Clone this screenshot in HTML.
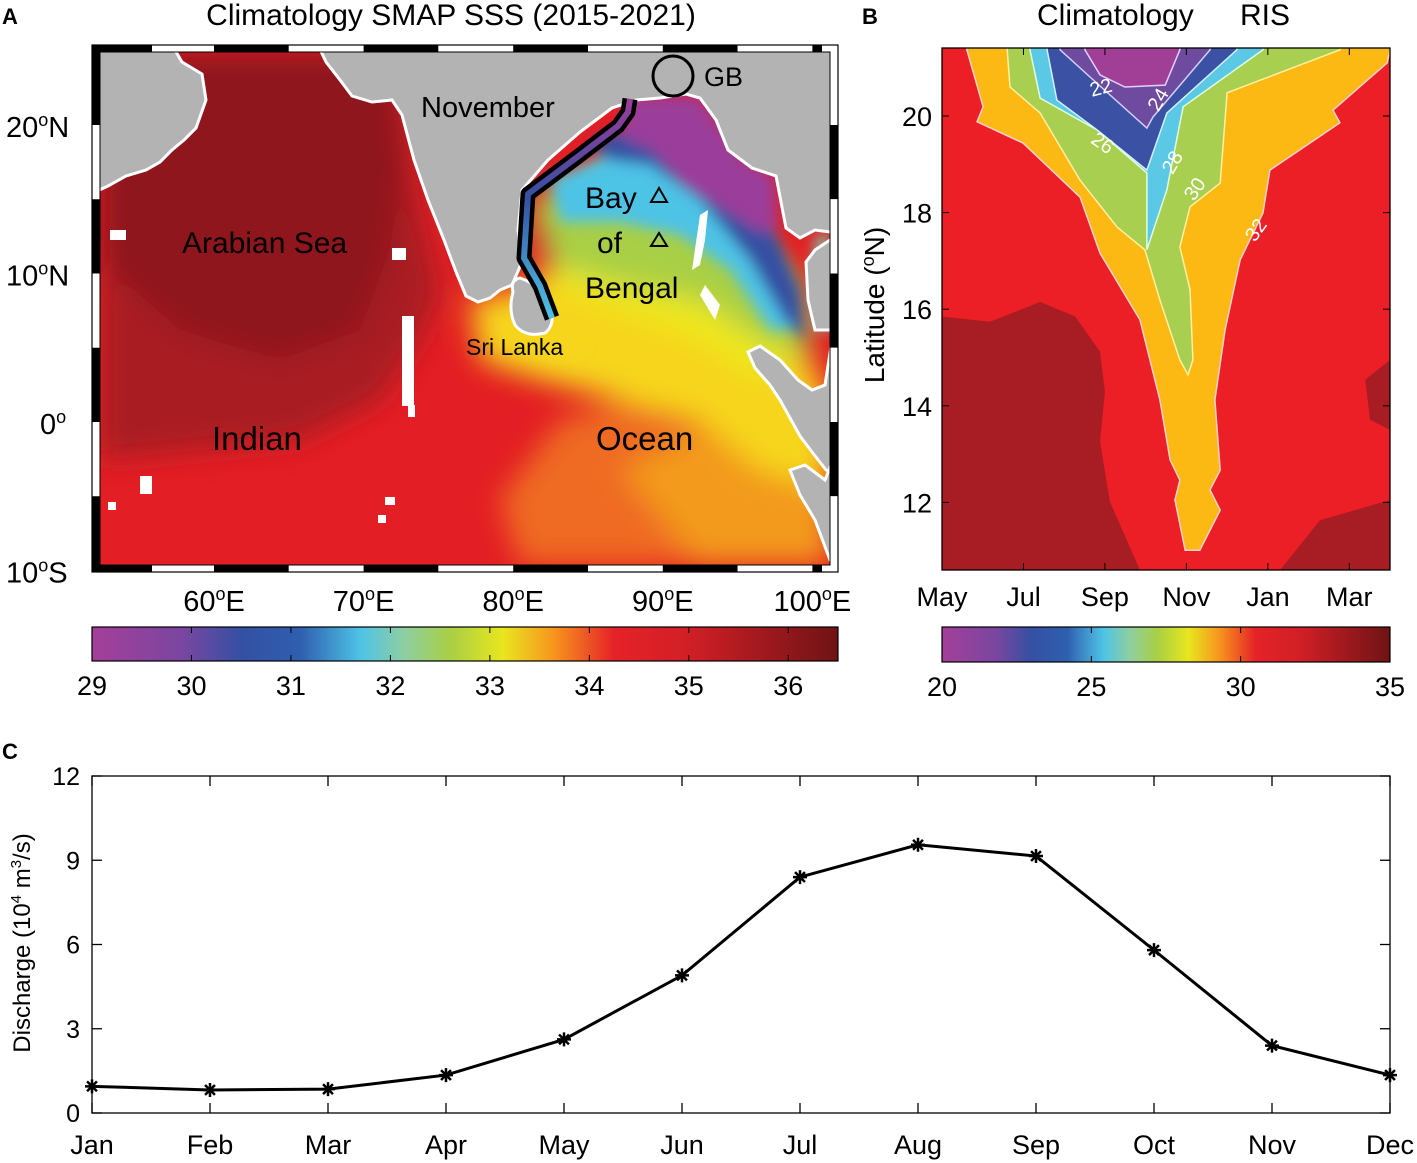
<!DOCTYPE html>
<html><head><meta charset="utf-8">
<style>
body{margin:0;background:#fff;}
svg{display:block;font-family:"Liberation Sans",Arial,sans-serif;}
</style></head>
<body>
<svg id="fig" width="1417" height="1163" viewBox="0 0 1417 1163" xmlns="http://www.w3.org/2000/svg">
<defs>
  <filter id="blur" x="-30%" y="-30%" width="160%" height="160%"><feGaussianBlur stdDeviation="14"/></filter>
  <filter id="blur2" x="-30%" y="-30%" width="160%" height="160%"><feGaussianBlur stdDeviation="7"/></filter>
  <clipPath id="mapclip"><rect x="100" y="52" width="730" height="513"/></clipPath>
  <linearGradient id="rail" x1="0" y1="0" x2="0" y2="1">
    <stop offset="0" stop-color="#9b3c9a"/><stop offset="0.45" stop-color="#3450a3"/><stop offset="1" stop-color="#4ec3e6"/>
  </linearGradient>
</defs>

<text x="2" y="24" font-size="22" font-weight="bold">A</text>
<text x="862" y="24" font-size="22" font-weight="bold">B</text>
<text x="2" y="759" font-size="22" font-weight="bold">C</text>
<text x="451" y="25" font-size="30" text-anchor="middle">Climatology SMAP SSS (2015-2021)</text>
<text x="1037" y="25" font-size="30">Climatology</text>
<text x="1240" y="25" font-size="30">RIS</text>

<g id="map">
 <g clip-path="url(#mapclip)">
  <rect x="100" y="52" width="730" height="513" fill="#e31e24"/>
  <g filter="url(#blur)">
    <path d="M100,52 L400,52 L420,200 L440,290 L420,340 L380,400 L300,440 L200,450 L100,460 Z" fill="#a91c22"/>
    <path d="M100,52 L390,52 L400,160 L390,250 L360,330 L280,360 L180,330 L100,260 Z" fill="#8e171b"/>
    <path d="M560,420 L700,380 L830,380 L830,565 L520,565 L500,500 Z" fill="#ef6a22"/>
    <path d="M620,470 L720,420 L830,440 L830,565 L700,565 Z" fill="#f39a1e"/>
    <path d="M470,300 L520,290 L560,260 L700,230 L790,300 L830,420 L830,490 L760,470 L700,420 L620,400 L540,380 L480,360 Z" fill="#f6d51c"/>
    <path d="M540,230 L700,210 L780,270 L790,360 L760,380 L700,340 L620,310 L560,290 Z" fill="#eee81e"/>
    <path d="M530,200 L620,160 L720,200 L800,280 L810,360 L760,340 L700,300 L620,285 L550,265 Z" fill="#a8cf45"/>
  </g>
  <g filter="url(#blur2)">
    <path d="M550,180 L620,150 L690,180 L760,260 L795,330 L770,330 L730,270 L680,235 L620,222 L560,222 Z" fill="#4ec3e6"/>
    <path d="M590,145 L640,118 L705,150 L765,210 L800,290 L805,340 L785,320 L750,260 L700,200 L650,165 L610,160 Z" fill="#3450a3"/>
    <path d="M628,95 L700,95 L722,125 L748,160 L775,175 L778,228 L760,232 L722,208 L682,182 L652,150 L620,136 Z" fill="#9b3c9a"/>
    <path d="M815,235 L830,235 L830,330 L815,330 Z" fill="#7cc6a8"/>
    <path d="M520,305 L545,330 L575,345 L600,350 L560,360 L520,350 Z" fill="#f6d51c"/>
  </g>
  <g fill="#b3b3b3" stroke="#ffffff" stroke-width="3">
    <path d="M95,45 L172,45 L182,62 L202,74 L206,100 L196,128 L184,140 L172,150 L160,162 L146,170 L126,176 L108,186 L95,192 Z"/>
    <path d="M318,45 L845,45 L845,232 L830,232 L815,230 L800,238 L786,228 L776,176 L752,168 L728,150 L716,120 L700,98 L686,94 L660,98 L636,100 L612,108 L580,132 L548,160 L522,190 L518,230 L522,262 L512,285 L500,290 L490,298 L478,302 L466,296 L456,272 L444,240 L428,200 L414,160 L402,115 L392,100 L372,102 L352,96 L340,80 L326,62 Z"/>
    <path d="M513,292 Q510,280 520,278 Q540,285 550,305 Q556,325 545,333 Q525,338 515,325 Q508,310 513,292 Z"/>
    <path d="M845,232 L845,336 L832,330 L815,330 L808,300 L806,262 L815,250 L830,240 Z"/>
    <path d="M845,336 L845,480 L826,470 L812,452 L800,436 L790,418 L780,400 L770,385 L755,368 L748,352 L760,346 L780,360 L798,380 L812,390 L825,385 L832,340 Z"/>
    <path d="M845,430 L845,565 L830,560 L815,520 L800,495 L790,470 L805,465 L825,480 Z"/>
  </g>
  <g fill="#ffffff">
    <rect x="402" y="316" width="12" height="90"/><rect x="408" y="405" width="7" height="12"/>
    <rect x="392" y="248" width="14" height="12"/><rect x="110" y="230" width="16" height="10"/>
    <rect x="140" y="476" width="12" height="18"/><rect x="108" y="502" width="8" height="8"/>
    <rect x="385" y="497" width="10" height="8"/><rect x="378" y="515" width="8" height="8"/>
    <path d="M700,215 L708,210 L705,240 L700,265 L692,270 Z"/>
    <path d="M705,285 L720,305 L715,320 L700,295 Z"/>
  </g>
  <polyline points="630,99 628,112 618,126 576,158 528,194 524,258 540,286 552,318" fill="none" stroke="#000" stroke-width="15" stroke-linejoin="round"/>
  <polyline points="630,99 628,112 618,126 576,158 528,194 524,258 540,286 552,318" fill="none" stroke="url(#rail)" stroke-width="6" stroke-linejoin="round"/>
 </g>
 <text x="421" y="117" font-size="29">November</text>
 <circle cx="673" cy="76" r="20" fill="none" stroke="#000" stroke-width="3"/>
 <text x="704" y="86" font-size="27">GB</text>
 <text x="585" y="208" font-size="30">Bay</text>
 <text x="597" y="253" font-size="30">of</text>
 <text x="585" y="298" font-size="30">Bengal</text>
 <path d="M659,188 L667,202 L651,202 Z M659,233 L667,246 L651,246 Z" fill="none" stroke="#000" stroke-width="2"/>
 <text x="182" y="253" font-size="30">Arabian Sea</text>
 <text x="466" y="355" font-size="23">Sri Lanka</text>
 <text x="212" y="450" font-size="33">Indian</text>
 <text x="596" y="450" font-size="33">Ocean</text>
 <g id="frame"></g>
 <g id="maplabels" font-size="29"></g>
</g>

<g id="cbA"></g>
<g id="cbB"></g>

<g id="panelB"></g>
<text transform="translate(884,305) rotate(-90)" font-size="28" text-anchor="middle">Latitude (<tspan dy="-10" font-size="18">o</tspan><tspan dy="10">N)</tspan></text>

<g id="panelC"></g>
<text transform="translate(30,943) rotate(-90)" font-size="24" text-anchor="middle">Discharge (10<tspan dy="-9" font-size="15">4</tspan><tspan dy="9"> m</tspan><tspan dy="-9" font-size="15">3</tspan><tspan dy="9">/s)</tspan></text>
</svg>

<script>
// ---- Panel C data ----
const months = ["Jan","Feb","Mar","Apr","May","Jun","Jul","Aug","Sep","Oct","Nov","Dec"];
const discharge = [0.95,0.82,0.85,1.35,2.62,4.9,8.4,9.55,9.15,5.8,2.4,1.35];
const dischargeTicks = [0,3,6,9,12];

// ---- Panel B data (month index from May, latitude) ----
const risMonths = ["May","Jul","Sep","Nov","Jan","Mar"];
const risMonthIdx = [0,2,4,6,8,10];
const risLatTicks = [12,14,16,18,20];
const darkLeft = [[0,15.85],[1.18,15.74],[2.41,16.15],[3.27,15.85],[3.88,15.12],[4.0,14.29],[3.88,13.26],[4.12,12.02],[4.86,10.6],[0,10.6]];
const darkRightBottom = [[8.3,10.6],[9.28,11.63],[11,12.05],[11,10.6]];
const darkRightEdge = [[11,14.95],[10.39,14.54],[10.51,13.71],[11,13.5]];
const level30 = [[0.61,21.37],[1.01,20.19],[0.86,19.88],[1.99,19.44],[3.39,18.32],[3.88,17.16],[4.86,15.78],[5.35,14.12],[5.6,12.88],[5.84,12.46],[5.72,12.05],[5.97,11.01],[6.33,11.01],[6.83,11.84],[6.58,12.26],[6.83,12.67],[6.70,14.12],[6.95,15.57],[7.32,17.02],[7.88,17.99],[8.05,18.88],[9.77,19.86],[9.6,20.12],[10.93,21.1],[11,21.37]];
const level28 = [[1.6,21.37],[1.67,20.6],[2.41,20.06],[3.39,18.67],[4.3,17.7],[4.98,17.23],[5.35,16.19],[5.84,14.95],[6.04,14.64],[6.16,14.95],[6.09,16.4],[5.84,17.29],[6.09,18.12],[6.83,18.61],[7.0,20.48],[9.77,21.37]];
const level26 = [[2.16,21.37],[2.41,20.37],[3.81,19.71],[5.03,18.82],[5.03,17.23],[5.52,18.47],[5.92,20.19],[7.88,21.37]];
const level24 = [[2.58,21.37],[2.82,20.33],[3.81,19.71],[5.03,18.88],[5.52,20.06],[7.24,21.37]];
const level22 = [[2.9,21.37],[3.63,20.81],[5.03,19.75],[5.18,19.98],[6.58,21.37]];
const level20 = [[3.51,21.37],[3.88,20.85],[4.49,20.6],[5.48,20.64],[5.84,21.37]];
const contourLabels = ["22","24","26","28","30","32"];
const contourLabelPos = [[3.9,20.45],[5.3,20.2],[3.95,19.3],[5.65,18.9],[6.2,18.35],[7.7,17.5]];
const contourLabelRot = [-15,-60,35,-60,-55,-55];

// ---- Colorbar data ----
const cbStops = [0,0.12,0.2,0.28,0.36,0.42,0.48,0.55,0.62,0.7,0.8,1];
const cbColors = ["#a43f99","#7a46a0","#3450a3","#2f5fb0","#4ec3e6","#8fcfa0","#a8cf45","#e8e61e","#f7941d","#e52228","#d11f26","#6e1315"];
const cbATicks = [29,30,31,32,33,34,35,36];
const cbBTicks = [20,25,30,35];
const mapLonTicks = [60,70,80,90,100];
const mapLatTicks = [20,10,0,-10];

const NS="http://www.w3.org/2000/svg";
function mk(tag, attrs, parent){const e=document.createElementNS(NS,tag);for(const k in attrs)e.setAttribute(k,attrs[k]);parent.appendChild(e);return e;}

(function(){
  const g=document.getElementById('panelC');
  const X0=92,X1=1390,Y0=1113,Y1=776;
  const xs=i=>X0+(X1-X0)*i/(months.length-1);
  const ys=v=>Y0-(Y0-Y1)*v/12;
  const box=mk('rect',{x:X0,y:Y1,width:X1-X0,height:Y0-Y1,fill:'none',stroke:'#000','stroke-width':1.3},g);
  
  
  dischargeTicks.forEach(v=>{
    const y=ys(v);
    mk('line',{x1:X0,x2:X0+10,y1:y,y2:y,stroke:'#000','stroke-width':1.3},g);
    mk('line',{x1:X1,x2:X1-10,y1:y,y2:y,stroke:'#000','stroke-width':1.3},g);
    const t=mk('text',{x:X0-12,y:y+9,'font-size':25,'text-anchor':'end'},g);t.textContent=v;
    
    
  });
  months.forEach((m,i)=>{
    const x=xs(i);
    mk('line',{x1:x,x2:x,y1:Y0,y2:Y0-10,stroke:'#000','stroke-width':1.3},g);
    mk('line',{x1:x,x2:x,y1:Y1,y2:Y1+10,stroke:'#000','stroke-width':1.3},g);
    const t=mk('text',{x:x,y:1154,'font-size':27,'text-anchor':'middle'},g);t.textContent=m;
    
    
  });
  const pl=mk('polyline',{points:discharge.map((v,i)=>xs(i)+','+ys(v)).join(' '),fill:'none',stroke:'#000','stroke-width':3},g);
  
  
  discharge.forEach((v,i)=>{
    const x=xs(i),y=ys(v);let d='';
    for(let k=0;k<4;k++){const a=k*Math.PI/4;d+=`M${x-7*Math.cos(a)},${y-7*Math.sin(a)}L${x+7*Math.cos(a)},${y+7*Math.sin(a)}`;}
    const p=mk('path',{d:d,stroke:'#000','stroke-width':2.5},g);
    
    
  });
})();

(function(){
  const g=document.getElementById('panelB');
  const X0=942,X1=1390,Y0=570,Y1=48;
  const xm=m=>X0+40.73*m;
  const yl=l=>116+(20-l)*48.3;
  const cp=mk('clipPath',{id:'bclip'},document.querySelector('defs'));
  mk('rect',{x:X0,y:Y1,width:X1-X0,height:Y0-Y1},cp);
  const inner=mk('g',{'clip-path':'url(#bclip)'},g);
  const bg=mk('rect',{x:X0,y:Y1,width:X1-X0,height:Y0-Y1,fill:'#ec1e26'},inner);
  
  
  const pts=a=>a.map(p=>xm(p[0])+','+yl(p[1])).join(' ');
  [darkLeft,darkRightBottom,darkRightEdge].forEach(a=>{
    const p=mk('polygon',{points:pts(a),fill:'#a81d23'},inner);
    
    
  });
  const levels=[[level30,'#fcb913','#ffd0d0'],[level28,'#a8cf4f','#fff0a0'],[level26,'#5bc8e6','#e0ffe0'],[level24,'#3b51a3','#d0f0ff'],[level22,'#6e4b9e','#d0d0ff'],[level20,'#a13f97','#e0d0ff']];
  levels.forEach(([a,c,s])=>{
    const p=mk('polygon',{points:pts(a)+' '+xm(a[a.length-1][0])+','+(Y1-5)+' '+xm(a[0][0])+','+(Y1-5),fill:c,stroke:s,'stroke-width':1.5},inner);
    
    
  });
  contourLabels.forEach((l,i)=>{
    const x=xm(contourLabelPos[i][0]),y=yl(contourLabelPos[i][1]);
    const t=mk('text',{x:x,y:y,'font-size':20,fill:'#fff','text-anchor':'middle',transform:`rotate(${contourLabelRot[i]} ${x} ${y-7})`},inner);
    t.textContent=l;
    
    
  });
  const fr=mk('rect',{x:X0,y:Y1,width:X1-X0,height:Y0-Y1,fill:'none',stroke:'#000','stroke-width':1.3},g);
  
  
  risLatTicks.forEach(l=>{
    const y=yl(l);
    mk('line',{x1:X0,x2:X0+7,y1:y,y2:y,stroke:'#000'},g);
    mk('line',{x1:X1,x2:X1-7,y1:y,y2:y,stroke:'#000'},g);
    const t=mk('text',{x:X0-10,y:y+10,'font-size':27,'text-anchor':'end'},g);t.textContent=l;
    
    
  });
  risMonths.forEach((m,i)=>{
    const x=xm(risMonthIdx[i]);
    mk('line',{x1:x,x2:x,y1:Y0,y2:Y0-7,stroke:'#000'},g);
    mk('line',{x1:x,x2:x,y1:Y1,y2:Y1+7,stroke:'#000'},g);
    const t=mk('text',{x:x,y:606,'font-size':27,'text-anchor':'middle'},g);t.textContent=m;
    
    
  });
})();

function colorbar(id,x0,x1,y0,y1,vmin,vmax,ticks){
  const g=document.getElementById(id);
  const gid=id+'grad';
  const lg=mk('linearGradient',{id:gid,x1:0,y1:0,x2:1,y2:0},document.querySelector('defs'));
  cbStops.forEach((s,i)=>mk('stop',{offset:s,'stop-color':cbColors[i]},lg));
  const r=mk('rect',{x:x0,y:y0,width:x1-x0,height:y1-y0,fill:`url(#${gid})`,stroke:'#000','stroke-width':1.2},g);
  
  
  ticks.forEach(v=>{
    const x=x0+(x1-x0)*(v-vmin)/(vmax-vmin);
    mk('line',{x1:x,x2:x,y1:y0,y2:y0+6,stroke:'#000'},g);
    mk('line',{x1:x,x2:x,y1:y1,y2:y1-6,stroke:'#000'},g);
    const t=mk('text',{x:x,y:y1+34,'font-size':27,'text-anchor':'middle'},g);t.textContent=v;
    
    
  });
}
colorbar('cbA',92,838,627,661,29,36.5,cbATicks);
colorbar('cbB',942,1390,627,662,20,35,cbBTicks);

(function(){
  const g=document.getElementById('frame');
  const lx=lon=>214+(lon-60)*14.96;
  const ly=lat=>422-lat*14.85;
  const xb=[92,152,lx(60),lx(65),lx(70),lx(75),lx(80),lx(85),lx(90),lx(95),lx(100),822,838];
  for(let i=0;i<xb.length-1;i++){
    const a=Math.max(92,xb[i]),b=Math.min(838,xb[i+1]);
    const c=i%2?'#fff':'#000';
    mk('rect',{x:a,y:45,width:b-a,height:7,fill:c},g);
    mk('rect',{x:a,y:565,width:b-a,height:7,fill:c},g);
  }
  const yb=[45,ly(20),ly(15),ly(10),ly(5),ly(0),ly(-5),572];
  for(let i=0;i<yb.length-1;i++){
    mk('rect',{x:92,y:yb[i],width:8,height:yb[i+1]-yb[i],fill:i%2?'#fff':'#000'},g);
    mk('rect',{x:830,y:yb[i],width:8,height:yb[i+1]-yb[i],fill:i%2?'#000':'#fff'},g);
  }
  mk('rect',{x:92,y:45,width:746,height:527,fill:'none',stroke:'#000','stroke-width':1.2},g);
  mk('rect',{x:100,y:52,width:730,height:513,fill:'none',stroke:'#000','stroke-width':1},g);
  const L=document.getElementById('maplabels');
  mapLonTicks.forEach(lon=>{
    const t=mk('text',{x:lx(lon),y:611,'text-anchor':'middle'},L);
    t.innerHTML=`${lon}<tspan dy="-11" font-size="18">o</tspan><tspan dy="11">E</tspan>`;
    
    
  });
  mapLatTicks.forEach(lat=>{
    const t=mk('text',{x:lat===0?40:6,y:ly(lat)+12},L);
    t.innerHTML=lat===0?`0<tspan dy="-11" font-size="18">o</tspan>`:`${Math.abs(lat)}<tspan dy="-11" font-size="18">o</tspan><tspan dy="11">${lat>0?'N':'S'}</tspan>`;
    
    
  });
})();
</script>
</body></html>
